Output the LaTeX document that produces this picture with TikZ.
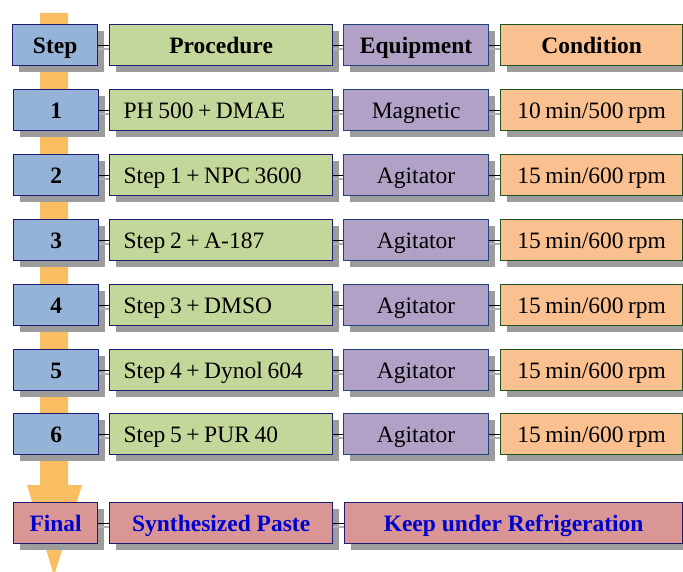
\documentclass[tikz,border=0pt]{standalone}
\usepackage{fontspec}
\setmainfont{Liberation Serif}
\usetikzlibrary{shadows}
\definecolor{stepc}{HTML}{95B3D7}
\definecolor{procc}{HTML}{C4D79B}
\definecolor{equipc}{HTML}{B2A1C7}
\definecolor{condc}{HTML}{FAC090}
\definecolor{finalc}{HTML}{DA9694}
\definecolor{navy}{HTML}{1C1C70}
\definecolor{equipb}{HTML}{23417A}
\definecolor{condb}{HTML}{1E551E}
\definecolor{shadowc}{HTML}{9C9C9C}
\definecolor{arrowc}{HTML}{F9BE62}
\definecolor{textblue}{HTML}{0000CC}
\newcommand{\fsz}{\fontsize{23.5}{27}\selectfont}
\newcommand{\tightsp}{\spaceskip=4.6pt\relax}
\newcommand{\midsp}{\spaceskip=4.5pt\relax}
\tikzset{
  box/.style={draw=navy, line width=1.3pt, anchor=north west, minimum height=41pt,
    inner sep=0pt, text height=17pt, text depth=0pt, font=\fsz,
    drop shadow={shadow xshift=6pt, shadow yshift=-6pt, fill=shadowc, opacity=1}},
  stepbox/.style={box, fill=stepc, minimum width=85pt, font=\fsz\bfseries},
  procbox/.style={box, fill=procc, text width=195pt, inner xsep=14pt, align=left},
  prochead/.style={box, fill=procc, minimum width=223pt, font=\fsz\bfseries},
  equipbox/.style={box, fill=equipc, draw=equipb, minimum width=145pt},
  condbox/.style={box, fill=condc, draw=condb, minimum width=182pt, font=\fsz\midsp},
  finalbox/.style={box, fill=finalc, font=\fsz\bfseries, text=textblue},
  conn/.style={draw=black, line width=0.9pt,
    preaction={draw=shadowc!80, line width=1.6pt, transform canvas={yshift=-4pt}}},
}
\begin{document}
\begin{tikzpicture}[x=1pt,y=-1pt]
\useasboundingbox (0,0) rectangle (683,572);
% orange flow arrow
\fill[arrowc] (40,13) -- (68,13) -- (68,485) -- (82,485) -- (54,576) -- (27,485) -- (40,485) -- cycle;
% header
\node[stepbox] (s0) at (12,24) {Step};
\node[prochead] (p0) at (109,24) {Procedure};
\node[equipbox, font=\fsz\bfseries] (e0) at (343,24) {Equipment};
\node[condbox, font=\fsz\bfseries] (c0) at (500,24) {Condition};
% rows
\foreach \i/\y/\proc/\eq/\cond in {
  1/89/{PH 500 + DMAE}/Magnetic/{10 min/500 rpm},
  2/154/{Step 1 + NPC 3600}/Agitator/{15 min/600 rpm},
  3/219/{Step 2 + A-187}/Agitator/{15 min/600 rpm},
  4/284/{Step 3 + DMSO}/Agitator/{15 min/600 rpm},
  5/349/{Step 4 + Dynol 604}/Agitator/{15 min/600 rpm},
  6/413/{Step 5 + PUR 40}/Agitator/{15 min/600 rpm}}{
  \node[stepbox] (s\i) at (13,\y) {\i};
  \node[procbox] (p\i) at (109,\y) {\tightsp\proc};
  \node[equipbox] (e\i) at (343,\y) {\eq};
  \node[condbox] (c\i) at (500,\y) {\cond};
}
% final row
\node[finalbox, minimum width=84pt] (sf) at (13,502) {Final};
\node[finalbox, minimum width=223pt] (pf) at (109,502) {Synthesized Paste};
\node[finalbox, minimum width=338pt] (kf) at (344,502) {Keep under Refrigeration};
% connectors
\foreach \i in {0,...,6}{
  \draw[conn] (s\i.east) -- (p\i.west);
  \draw[conn] (p\i.east) -- (e\i.west);
  \draw[conn] (e\i.east) -- (c\i.west);
}
\draw[conn] (sf.east) -- (pf.west);
\draw[conn] (pf.east) -- (kf.west);
\end{tikzpicture}
\end{document}
